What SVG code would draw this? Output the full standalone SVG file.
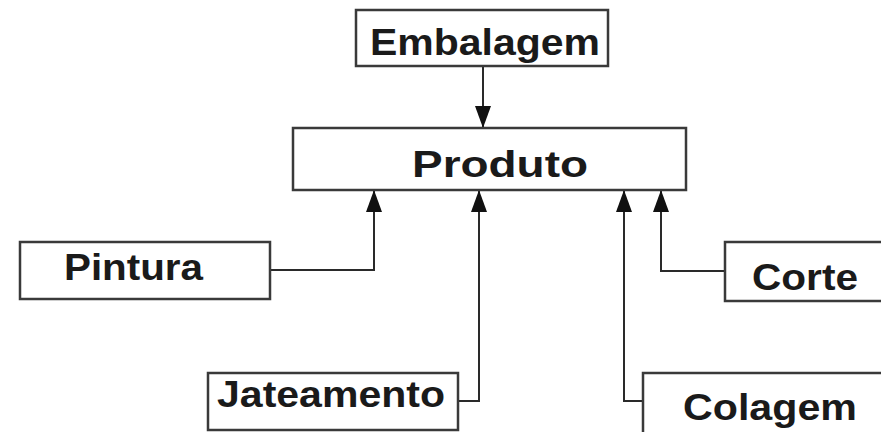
<svg xmlns="http://www.w3.org/2000/svg" width="881" height="432" viewBox="0 0 881 432">
<style>
.box{fill:#fff;stroke:#3a3a3a;stroke-width:2.5}
.lbl{font-family:"Liberation Sans",Arial,sans-serif;font-weight:bold;font-size:37px;fill:#1a1a1a}
.edge{fill:none;stroke:#2a2a2a;stroke-width:2}
</style>
<defs>
<marker id="arr" markerWidth="22" markerHeight="16" refX="22" refY="8" orient="auto" markerUnits="userSpaceOnUse" viewBox="0 0 22 16">
<path d="M0,0 L22,8 L0,16 Z" fill="#111"/>
</marker>
</defs>
<rect width="881" height="432" fill="#fff"/>
<g id="connectors">
<path class="edge" d="M483,66 L483,128" marker-end="url(#arr)"/>
<path class="edge" d="M270,270 L374,270 L374,190" marker-end="url(#arr)"/>
<path class="edge" d="M458,401 L479,401 L479,190" marker-end="url(#arr)"/>
<path class="edge" d="M643,401 L624,401 L624,190" marker-end="url(#arr)"/>
<path class="edge" d="M725,271 L661,271 L661,190" marker-end="url(#arr)"/>
</g>
<g id="embalagem">
<rect class="box" x="356" y="10" width="252" height="56"/>
<text class="lbl" x="370" y="55" textLength="230" lengthAdjust="spacingAndGlyphs">Embalagem</text>
</g>
<g id="produto">
<rect class="box" x="293" y="128" width="393" height="62"/>
<text class="lbl" x="412" y="177" textLength="176" lengthAdjust="spacingAndGlyphs">Produto</text>
</g>
<g id="pintura">
<rect class="box" x="20" y="242" width="250" height="57"/>
<text class="lbl" x="64" y="280" textLength="139" lengthAdjust="spacingAndGlyphs">Pintura</text>
</g>
<g id="jateamento">
<rect class="box" x="208" y="373" width="250" height="57"/>
<text class="lbl" x="217" y="407" textLength="228" lengthAdjust="spacingAndGlyphs">Jateamento</text>
</g>
<g id="corte">
<rect class="box" x="725" y="242" width="170" height="59"/>
<text class="lbl" x="752" y="290" textLength="106" lengthAdjust="spacingAndGlyphs">Corte</text>
</g>
<g id="colagem">
<rect class="box" x="643" y="373" width="250" height="70"/>
<text class="lbl" x="683" y="420" textLength="174" lengthAdjust="spacingAndGlyphs">Colagem</text>
</g>
</svg>
